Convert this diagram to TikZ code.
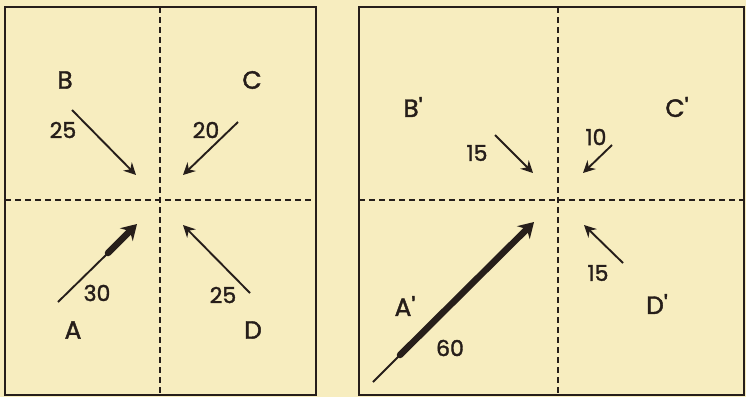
\documentclass[tikz,border=0pt]{standalone}
\usepackage{fontspec}
\setmainfont{Poppins}[FakeBold=1.6]
\usepackage{tikz}
\usetikzlibrary{arrows.meta}
\definecolor{paper}{RGB}{247,237,191}
\definecolor{ink}{RGB}{38,30,26}
\newcommand{\pr}{\textquotesingle}

\begin{document}
\begin{tikzpicture}[x=1pt,y=-1pt,
  frame/.style={ink,line width=2.4pt},
  divider/.style={ink,line width=2.2pt,dash pattern=on 6pt off 4pt},
  force/.style={ink,line width=1.9pt,-{Stealth[length=12pt,width=12pt,inset=4pt]}},
  tail/.style={ink,line width=1.9pt},
  heavy/.style={ink,line width=6.5pt,line cap=round,-{Stealth[length=15pt,width=18pt,inset=5pt]}},
  lab/.style={ink,font=\fontsize{25}{25}\selectfont},
  num/.style={ink,font=\fontsize{22}{22}\selectfont}]
  \fill[paper] (0,0) rectangle (746,397);
  \useasboundingbox (0,0) rectangle (746,397);

  % left panel
  \draw[frame] (5,7) rectangle (316,395);
  \draw[divider] (5,200) -- (316,200);
  \draw[divider] (160,7) -- (160,395);
  \node[lab] (B) at (65,80) {B};
  \node[lab] (C) at (252,80) {C};
  \node[lab] (A) at (73,330) {A};
  \node[lab] (D) at (253,330) {D};
  \coordinate (b0) at (72,110);  \coordinate (b1) at (136,175);
  \coordinate (c0) at (238,122); \coordinate (c1) at (183,175);
  \coordinate (a0) at (58,302);  \coordinate (am) at (108,253); \coordinate (a1) at (137,224);
  \coordinate (d0) at (250,293); \coordinate (d1) at (183,225);
  \draw[force] (b0) -- (b1);
  \draw[force] (c0) -- (c1);
  \draw[tail] (a0) -- (am);
  \draw[heavy] (am) -- (a1);
  \draw[force] (d0) -- (d1);
  \node[num] (fb) at (63,130) {25};
  \node[num] (fc) at (206,130) {20};
  \node[num] (fa) at (97,293) {30};
  \node[num] (fd) at (223,295) {25};

  % right panel
  \draw[frame] (359,7) rectangle (744,395);
  \draw[divider] (359,200) -- (744,200);
  \draw[divider] (558,7) -- (558,395);
  \node[lab] (B') at (413,107) {B\pr};
  \node[lab] (C') at (677,107) {C\pr};
  \node[lab] (A') at (405,306) {A\pr};
  \node[lab] (D') at (657,304) {D\pr};
  \coordinate (b'0) at (495,135); \coordinate (b'1) at (533,173);
  \coordinate (c'0) at (612,145); \coordinate (c'1) at (583,173);
  \coordinate (a'0) at (373,382); \coordinate (a'm) at (400,355); \coordinate (a'1) at (534,222);
  \coordinate (d'0) at (623,263); \coordinate (d'1) at (584,225);
  \draw[force] (b'0) -- (b'1);
  \draw[force] (c'0) -- (c'1);
  \draw[tail] (a'0) -- (a'm);
  \draw[heavy] (a'm) -- (a'1);
  \draw[force] (d'0) -- (d'1);
  \node[num] (fb') at (477,153) {15};
  \node[num] (fc') at (596,137) {10};
  \node[num] (fa') at (450,348) {60};
  \node[num] (fd') at (598,273) {15};
\end{tikzpicture}
\end{document}
